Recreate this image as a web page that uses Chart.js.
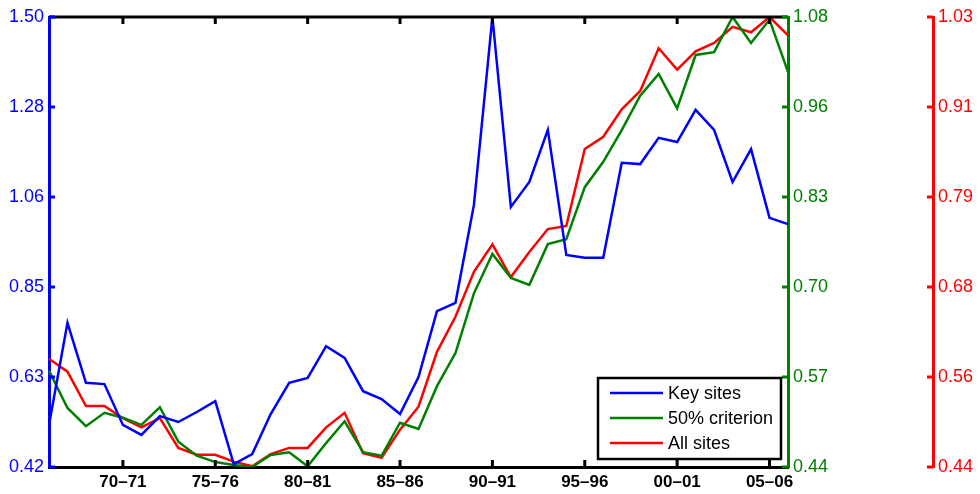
<!DOCTYPE html>
<html lang="en">
<head>
    <meta charset="UTF-8">
    <title>Key sites / 50% criterion / All sites</title>
    <style>
        html, body { margin: 0; padding: 0; background: #fff; }
        canvas { display: block; }
    </style>
</head>
<body>
    <canvas id="chart" width="980" height="494"></canvas>

    <script src="https://cdn.jsdelivr.net/npm/chart.js"></script>
    <script>
        // seasons on the x axis
        const seasons = ['66–67', '67–68', '68–69', '69–70', '70–71', '71–72', '72–73', '73–74', '74–75', '75–76',
                         '76–77', '77–78', '78–79', '79–80', '80–81', '81–82', '82–83', '83–84', '84–85', '85–86',
                         '86–87', '87–88', '88–89', '89–90', '90–91', '91–92', '92–93', '93–94', '94–95', '95–96',
                         '96–97', '97–98', '98–99', '99–00', '00–01', '01–02', '02–03', '03–04', '04–05', '05–06',
                         '06–07'];
        const xTickLabels = ['70–71', '75–76', '80–81', '85–86', '90–91', '95–96', '00–01', '05–06'];

        // series
        const keySites = [0.521, 0.766, 0.622, 0.619, 0.521, 0.497, 0.542, 0.528, 0.552, 0.578,
                          0.427, 0.451, 0.547, 0.622, 0.634, 0.710, 0.682, 0.602, 0.583, 0.547,
                          0.636, 0.794, 0.814, 1.049, 1.500, 1.044, 1.104, 1.229, 0.929, 0.922,
                          0.922, 1.150, 1.147, 1.210, 1.200, 1.277, 1.229, 1.104, 1.183, 1.018,
                          1.003];
        const criterion50 = [0.577, 0.524, 0.498, 0.517, 0.510, 0.500, 0.525, 0.476, 0.456, 0.447,
                             0.443, 0.440, 0.457, 0.461, 0.441, 0.474, 0.505, 0.461, 0.456, 0.503,
                             0.494, 0.555, 0.602, 0.687, 0.743, 0.709, 0.699, 0.757, 0.764, 0.838,
                             0.874, 0.919, 0.968, 0.999, 0.950, 1.026, 1.030, 1.080, 1.043, 1.076,
                             1.002];
        const allSites = [0.582, 0.565, 0.520, 0.520, 0.504, 0.492, 0.504, 0.465, 0.456, 0.456,
                          0.447, 0.441, 0.457, 0.465, 0.465, 0.492, 0.511, 0.458, 0.452, 0.489,
                          0.519, 0.591, 0.637, 0.696, 0.732, 0.689, 0.722, 0.752, 0.756, 0.857,
                          0.873, 0.909, 0.933, 0.989, 0.961, 0.985, 0.996, 1.017, 1.010, 1.030,
                          1.006];

        // tick labels of the three y axes
        const keyTicks = ['0.42', '0.63', '0.85', '1.06', '1.28', '1.50'];
        const critTicks = ['0.44', '0.57', '0.70', '0.83', '0.96', '1.08'];
        const allTicks = ['0.44', '0.56', '0.68', '0.79', '0.91', '1.03'];

        const BLUE = '#0000ff';
        const GREEN = '#008000';
        const RED = '#ff0000';
        const FONT = '"Liberation Sans", Arial, Helvetica, sans-serif';

        // evenly spaced ticks from min to max, one per label
        function evenTicks(labels) {
            return function (scale) {
                const n = labels.length;
                scale.ticks = labels.map((l, k) => ({ value: scale.min + k * (scale.max - scale.min) / (n - 1) }));
            };
        }

        function yAxis(color, labels, min, max, position, width, weight) {
            return {
                type: 'linear',
                position: position,
                weight: weight,
                min: min,
                max: max,
                grid: { display: false, drawTicks: false },
                border: { display: true, color: color, width: 3 },
                afterBuildTicks: evenTicks(labels),
                afterFit: function (scale) { scale.width = width; },
                ticks: {
                    color: color,
                    padding: 5,
                    font: { family: FONT, size: 18 },
                    callback: (v, i) => labels[i]
                }
            };
        }

        // matlab style: frame on top, ticks pointing inside, legend box in the corner
        const framePlugin = {
            id: 'frame',
            afterDatasetsDraw(chart) {
                const ctx = chart.ctx;
                const area = chart.chartArea;
                const x = chart.scales.x;
                ctx.save();
                ctx.lineCap = 'butt';

                ctx.strokeStyle = '#000';
                ctx.lineWidth = 3;
                ctx.beginPath();
                ctx.moveTo(area.left, area.top);
                ctx.lineTo(area.right, area.top);
                ctx.stroke();

                x.ticks.forEach(t => {
                    const px = x.getPixelForValue(t.value);
                    ctx.beginPath();
                    ctx.moveTo(px, area.bottom);
                    ctx.lineTo(px, area.bottom - 7);
                    ctx.moveTo(px, area.top);
                    ctx.lineTo(px, area.top + 7);
                    ctx.stroke();
                });

                [['yKey', 1], ['yCrit', -1], ['yAll', -1]].forEach(([id, dir]) => {
                    const s = chart.scales[id];
                    const edge = dir > 0 ? s.right : s.left;
                    ctx.strokeStyle = s.options.ticks.color;
                    ctx.lineWidth = 3;
                    s.ticks.forEach(t => {
                        const py = s.getPixelForValue(t.value);
                        ctx.beginPath();
                        ctx.moveTo(edge, py);
                        ctx.lineTo(edge + dir * 6, py);
                        ctx.stroke();
                    });
                });

                // legend
                const w = 183, h = 81;
                const bx = area.right - 7 - w;
                const by = area.bottom - 8 - h;
                ctx.fillStyle = '#fff';
                ctx.fillRect(bx, by, w, h);
                ctx.strokeStyle = '#000';
                ctx.lineWidth = 2.5;
                ctx.strokeRect(bx, by, w, h);
                ctx.font = '18px ' + FONT;
                ctx.textBaseline = 'middle';
                chart.data.datasets.forEach((ds, k) => {
                    const ly = by + 15 + k * 25;
                    ctx.strokeStyle = ds.borderColor;
                    ctx.lineWidth = 2.5;
                    ctx.beginPath();
                    ctx.moveTo(bx + 12, ly);
                    ctx.lineTo(bx + 65, ly);
                    ctx.stroke();
                    ctx.fillStyle = '#000';
                    ctx.fillText(ds.label, bx + 70, ly + 1);
                });
                ctx.restore();
            }
        };

        new Chart(document.getElementById('chart'), {
            type: 'line',
            data: {
                labels: seasons,
                datasets: [
                    { label: 'Key sites', data: keySites, yAxisID: 'yKey', borderColor: BLUE },
                    { label: '50% criterion', data: criterion50, yAxisID: 'yCrit', borderColor: GREEN },
                    { label: 'All sites', data: allSites, yAxisID: 'yAll', borderColor: RED }
                ]
            },
            options: {
                responsive: false,
                animation: false,
                layout: { padding: { top: 17, right: 0, bottom: 0, left: 0 } },
                elements: {
                    line: { borderWidth: 2.5, tension: 0, fill: false },
                    point: { radius: 0 }
                },
                plugins: {
                    legend: { display: false },
                    tooltip: { enabled: false }
                },
                scales: {
                    x: {
                        type: 'category',
                        offset: false,
                        grid: { display: false, drawTicks: false },
                        border: { display: true, color: '#000', width: 3 },
                        afterBuildTicks: function (scale) {
                            scale.ticks = scale.ticks.filter(t => xTickLabels.includes(seasons[t.value]));
                        },
                        afterFit: function (scale) { scale.height = 27; },
                        ticks: {
                            autoSkip: false,
                            maxRotation: 0,
                            color: '#000',
                            padding: 5,
                            font: { family: FONT, size: 17, weight: 'bold' },
                            callback: function (v) { return seasons[v]; }
                        }
                    },
                    yKey: yAxis(BLUE, keyTicks, 0.42, 1.50, 'left', 49, 0),
                    yCrit: yAxis(GREEN, critTicks, 0.44, 1.08, 'right', 145, 0),
                    yAll: yAxis(RED, allTicks, 0.44, 1.03, 'right', 47, 1)
                }
            },
            plugins: [framePlugin]
        });
    </script>
</body>
</html>
